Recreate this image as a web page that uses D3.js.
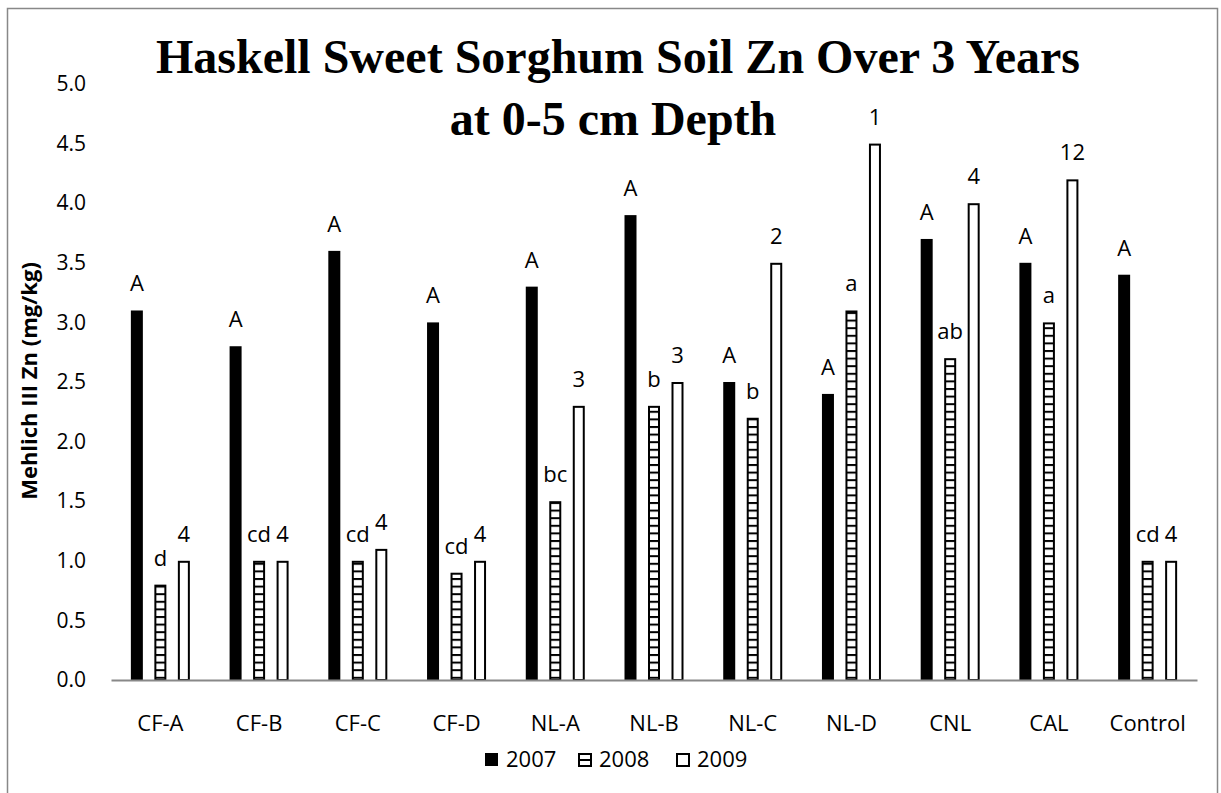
<!DOCTYPE html>
<html>
<head>
<meta charset="utf-8">
<script src="https://cdn.jsdelivr.net/npm/d3@7"></script>
<style>
  body { margin: 0; background: #fff; }
  svg { display: block; }
</style>
</head>
<body>
<svg id="drawing_region"></svg>
<script>
// data
var categories = ['CF-A', 'CF-B', 'CF-C', 'CF-D', 'NL-A', 'NL-B', 'NL-C', 'NL-D', 'CNL', 'CAL', 'Control'];
var years = ['2007', '2008', '2009'];
var v2007 = [3.1, 2.8, 3.6, 3.0, 3.3, 3.9, 2.5, 2.4, 3.7, 3.5, 3.4];
var v2008 = [0.8, 1.0, 1.0, 0.9, 1.5, 2.3, 2.2, 3.1, 2.7, 3.0, 1.0];
var v2009 = [1.0, 1.0, 1.1, 1.0, 2.3, 2.5, 3.5, 4.5, 4.0, 4.2, 1.0];
var lab2007 = ['A', 'A', 'A', 'A', 'A', 'A', 'A', 'A', 'A', 'A', 'A'];
var lab2008 = ['d', 'cd', 'cd', 'cd', 'bc', 'b', 'b', 'a', 'ab', 'a', 'cd'];
var lab2009 = ['4', '4', '4', '4', '3', '3', '2', '1', '4', '12', '4'];
var yticks = [0, 0.5, 1, 1.5, 2, 2.5, 3, 3.5, 4, 4.5, 5];

var width = 1221, height = 793;
var margin = {top: 84, right: 24, bottom: 113, left: 111}; // plot area
var inner_width = width - margin.left - margin.right;
var inner_height = height - margin.top - margin.bottom;
var FONT = 'Open Sans, sans-serif';

var svg = d3.select('#drawing_region').attr('width', width).attr('height', height);

// hatch pattern for 2008
var defs = svg.append('defs');
var pat = defs.append('pattern')
    .attr('id', 'hatch')
    .attr('patternUnits', 'userSpaceOnUse')
    .attr('width', 12).attr('height', 7.6);
pat.append('rect').attr('width', 12).attr('height', 7.6).attr('fill', '#fff');
pat.append('rect').attr('y', 0).attr('width', 12).attr('height', 2).attr('fill', '#000');

// outer border (bottom edge falls outside the picture)
svg.append('rect')
    .attr('x', 7.5).attr('y', 8.5)
    .attr('width', 1210).attr('height', 800)
    .attr('fill', '#fff').attr('stroke', '#888').attr('stroke-width', 1.5);

var chart = svg.append('g').attr('transform', `translate(${margin.left}, ${margin.top})`);

var xscale = d3.scaleBand().domain(categories).range([0, inner_width]);
var yscale = d3.scaleLinear().domain([0, 5]).range([inner_height, 0]);
var inner = d3.scaleBand().domain(years).range([-35.25, 35.25]);
var barW = 12;

var series = [
  {year: '2007', values: v2007, labels: lab2007, fill: '#000'},
  {year: '2008', values: v2008, labels: lab2008, fill: 'url(#hatch)'},
  {year: '2009', values: v2009, labels: lab2009, fill: '#fff'}
];

// y axis labels (no axis line)
var yaxis = d3.axisLeft(yscale).tickValues(yticks).tickFormat(d3.format('.1f')).tickSize(0).tickPadding(25);
var yg = chart.append('g').call(yaxis);
yg.select('.domain').remove();
yg.selectAll('text')
    .attr('font-family', FONT).attr('font-size', 21).attr('fill', '#000');

// bars
series.forEach(function(s) {
  var g = chart.append('g');
  var solid = s.year === '2007';
  var cx = function(i) { return xscale(categories[i]) + xscale.bandwidth() / 2 + inner(s.year) + inner.bandwidth() / 2; };
  g.selectAll('rect').data(s.values).enter().append('rect')
      .attr('x', (d, i) => cx(i) - barW / 2 + (solid ? 0 : 1))
      .attr('y', d => yscale(d) + (solid ? 0 : 1))
      .attr('width', solid ? barW : barW - 2)
      .attr('height', d => inner_height - yscale(d) - (solid ? 0 : 1))
      .attr('fill', s.fill)
      .attr('stroke', solid ? 'none' : '#000')
      .attr('stroke-width', 2);
  g.selectAll('text').data(s.values).enter().append('text')
      .attr('x', (d, i) => cx(i))
      .attr('y', d => yscale(d) - 19)
      .attr('text-anchor', 'middle')
      .attr('font-family', FONT).attr('font-size', 22)
      .text((d, i) => s.labels[i]);
});

// x axis
var xaxis = d3.axisBottom(xscale).tickSize(0).tickSizeOuter(0);
var xg = chart.append('g').attr('transform', `translate(0, ${inner_height})`).call(xaxis);
xg.select('.domain').attr('stroke', '#888').attr('stroke-width', 2);
xg.selectAll('text')
    .attr('y', 51).attr('dy', 0)
    .attr('font-family', FONT).attr('font-size', 22).attr('fill', '#000');

// y axis title
svg.append('text')
    .attr('transform', 'translate(37, 381) rotate(-90)')
    .attr('text-anchor', 'middle')
    .attr('font-family', FONT).attr('font-weight', 'bold').attr('font-size', 22)
    .text('Mehlich III Zn (mg/kg)');

// title
var title = svg.append('text')
    .attr('text-anchor', 'middle')
    .attr('font-family', 'Liberation Serif, Times New Roman, serif')
    .attr('font-weight', 'bold').attr('font-size', 48);
title.append('tspan').attr('x', 618).attr('y', 73).text('Haskell Sweet Sorghum Soil Zn Over 3 Years');
title.append('tspan').attr('x', 613).attr('y', 135).text('at 0-5 cm Depth');

// legend
var legX = [485, 578, 676];
var leg = svg.append('g');
series.forEach(function(s, i) {
  if (i === 0) {
    leg.append('rect').attr('x', legX[i]).attr('y', 753).attr('width', 13).attr('height', 13).attr('fill', '#000');
  } else {
    leg.append('rect')
        .attr('x', legX[i] + 1).attr('y', 754)
        .attr('width', 12).attr('height', 12)
        .attr('fill', '#fff').attr('stroke', '#000').attr('stroke-width', 2);
  }
  if (i === 1) {
    leg.append('line').attr('x1', legX[i] + 1).attr('x2', legX[i] + 13)
        .attr('y1', 760).attr('y2', 760).attr('stroke', '#000').attr('stroke-width', 2);
  }
  leg.append('text')
      .attr('x', legX[i] + 21).attr('y', 767)
      .attr('font-family', FONT).attr('font-size', 22)
      .text(s.year);
});
</script>
</body>
</html>
